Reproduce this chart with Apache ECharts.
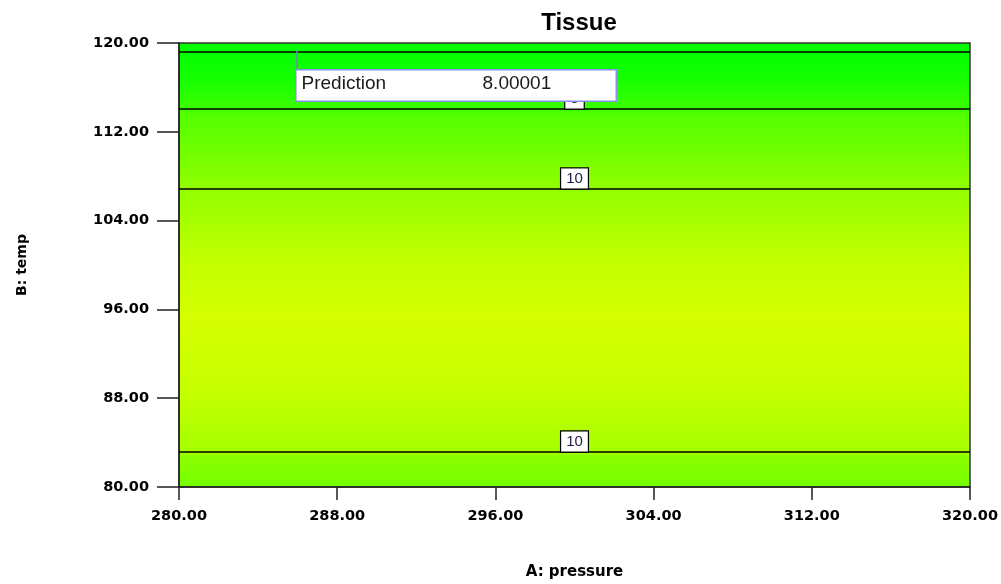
<!DOCTYPE html>
<html>
<head>
<meta charset="utf-8">
<script src="https://cdn.jsdelivr.net/npm/echarts@6/dist/echarts.min.js"></script>
<style>
html,body{margin:0;padding:0;background:#fff;}
#chart{width:1001px;height:584px;}
</style>
</head>
<body>
<div id="chart"></div>
<script>
// ---- data ----
const titleText = 'Tissue';
const xName = 'A: pressure';
const yName = 'B: temp';
const xMin = 280, xMax = 320, xStep = 8;
const yMin = 80, yMax = 120, yStep = 8;
// contour levels and the temperature where each crosses (horizontal lines)
const contourLevels = [6, 8, 10, 10];
const contourTemps = [119.19, 114.05, 106.85, 83.15];
const contourLabelShown = [false, true, true, true];
const contourLabelPressure = 300;
// prediction flag
const flagPoint = [285.97, 119.3];
const flagBoxTop = 117.48;
const predictionLabel = 'Prediction';
const predictionValue = '8.00001';

// ---- build series ----
const series = [];
contourTemps.forEach(function (t, i) {
  series.push({
    type: 'line',
    data: [[xMin, t], [xMax, t]],
    symbol: 'none',
    silent: true,
    lineStyle: { color: '#000', width: 1.5 },
    z: 2
  });
});
const labelData = [];
contourTemps.forEach(function (t, i) {
  if (contourLabelShown[i]) labelData.push([contourLabelPressure, t, contourLevels[i]]);
});
series.push({
  type: 'scatter',
  data: labelData,
  symbolSize: 1,
  itemStyle: { color: 'transparent', opacity: 1 },
  silent: true,
  z: 3,
  label: {
    show: true,
    position: 'top',
    distance: 0,
    formatter: function (p) { return String(p.value[2]); },
    backgroundColor: '#fff',
    borderColor: '#000',
    borderWidth: 1.2,
    padding: [3, 5, 2, 5],
    fontFamily: 'Liberation Sans, Arial, sans-serif',
    fontSize: 15,
    color: '#1c1c48'
  }
});
// flag pole
series.push({
  type: 'line',
  data: [flagPoint, [flagPoint[0], flagBoxTop]],
  symbol: 'none',
  silent: true,
  lineStyle: { color: '#7a7ad0', width: 1.5 },
  z: 4
});
// flag box
series.push({
  type: 'scatter',
  data: [[flagPoint[0], flagBoxTop]],
  symbolSize: 1,
  itemStyle: { color: 'transparent', opacity: 1 },
  silent: true,
  z: 5,
  zlevel: 1,
  label: {
    show: true,
    position: [0, 0],
    align: 'left',
    verticalAlign: 'top',
    formatter: '{a|' + predictionLabel + '}{b|' + predictionValue + '}',
    backgroundColor: '#fff',
    borderColor: '#8c8cf0',
    borderWidth: 1.5,
    padding: [4, 5, 4, 5],
    width: 309,
    height: 22,
    rich: {
      a: { width: 181, fontSize: 19, fontFamily: 'Liberation Sans, Arial, sans-serif', color: '#1a1a1a' },
      b: { fontSize: 19, fontFamily: 'Liberation Sans, Arial, sans-serif', color: '#1a1a1a' }
    }
  }
});

const chart = echarts.init(document.getElementById('chart'), null, { renderer: 'canvas' });
chart.setOption({
  animation: false,
  backgroundColor: '#fff',
  title: {
    text: titleText,
    left: 574,
    textAlign: 'center',
    top: 6,
    textStyle: { fontFamily: 'Liberation Sans, Arial, sans-serif', fontWeight: 'bold', fontSize: 24, color: '#000' }
  },
  grid: {
    left: 179, right: 31, top: 43, bottom: 97,
    containLabel: false,
    outerBoundsMode: 'none',
    show: true,
    borderColor: '#333',
    borderWidth: 1.5,
    backgroundColor: new echarts.graphic.LinearGradient(0, 0, 0, 1, [
      { offset: 0.0, color: '#00ff00' },
      { offset: 0.08, color: '#14ff00' },
      { offset: 0.15, color: '#3cff00' },
      { offset: 0.16, color: '#50ff00' },
      { offset: 0.33, color: '#92ff00' },
      { offset: 0.48, color: '#c0ff00' },
      { offset: 0.62, color: '#d6ff00' },
      { offset: 0.78, color: '#c6ff00' },
      { offset: 0.92, color: '#a4ff00' },
      { offset: 0.93, color: '#8cff00' },
      { offset: 1.0, color: '#74ff00' }
    ])
  },
  xAxis: {
    type: 'value',
    min: xMin, max: xMax, interval: xStep,
    name: xName,
    nameLocation: 'middle',
    nameGap: 78,
    nameTextStyle: { fontFamily: 'DejaVu Sans, sans-serif', fontWeight: 'bold', fontSize: 15, color: '#000' },
    axisLine: { show: true, lineStyle: { color: '#222', width: 1.5 } },
    axisTick: { show: true, length: 13, inside: false, lineStyle: { color: '#222', width: 1.5 } },
    axisLabel: {
      margin: 22,
      formatter: function (v) { return v.toFixed(2); },
      fontFamily: 'DejaVu Sans, sans-serif', fontWeight: 'bold', fontSize: 14.5, color: '#000'
    },
    splitLine: { show: false }
  },
  yAxis: {
    type: 'value',
    min: yMin, max: yMax, interval: yStep,
    name: yName,
    nameLocation: 'middle',
    nameGap: 150,
    nameRotate: 90,
    nameTextStyle: { fontFamily: 'DejaVu Sans, sans-serif', fontWeight: 'bold', fontSize: 14, color: '#000' },
    axisLine: { show: true, lineStyle: { color: '#222', width: 1.5 } },
    axisTick: { show: true, length: 22, inside: false, lineStyle: { color: '#222', width: 1.5 } },
    axisLabel: {
      margin: 30,
      formatter: function (v) { return v.toFixed(2); },
      fontFamily: 'DejaVu Sans, sans-serif', fontWeight: 'bold', fontSize: 14.5, color: '#000'
    },
    splitLine: { show: false }
  },
  series: series
});
</script>
</body>
</html>
